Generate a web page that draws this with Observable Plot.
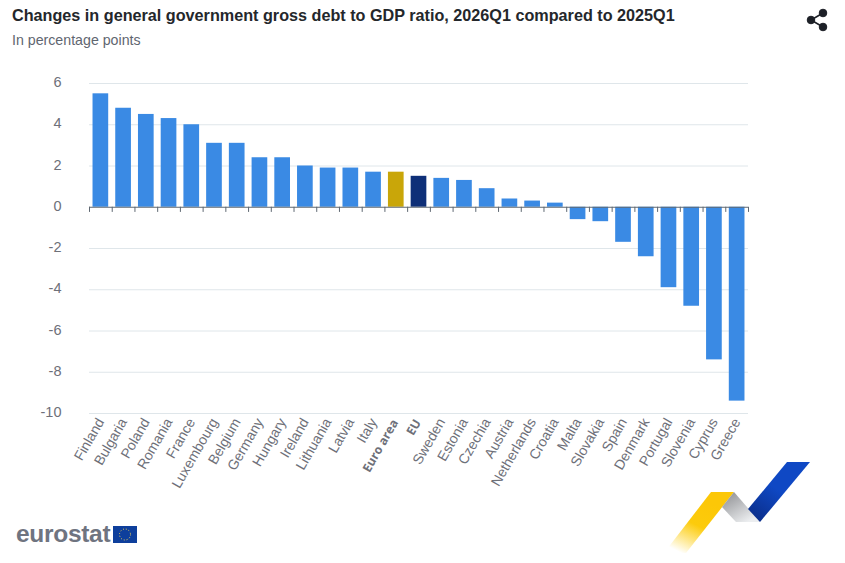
<!DOCTYPE html>
<html><head><meta charset="utf-8">
<script src="https://cdn.jsdelivr.net/npm/d3@7"></script>
<script src="https://cdn.jsdelivr.net/npm/@observablehq/plot@0.6"></script>
<style>
html,body{margin:0;padding:0;background:#fff;font-family:"Liberation Sans",Arial,sans-serif;overflow:hidden}
#wrap{position:relative;width:845px;height:563px}
#title{position:absolute;left:12px;top:5px;font-size:16.2px;font-weight:700;color:#24272b;white-space:nowrap;line-height:20px}
#subtitle{position:absolute;left:12px;top:31px;font-size:14.2px;color:#5f6670;white-space:nowrap;line-height:18px}
#chart{position:absolute;left:0;top:0}
.deco{position:absolute;left:0;top:0;pointer-events:none}
#wordmark{position:absolute;left:16px;top:519px;font-size:24.5px;font-weight:700;color:#6f7480;letter-spacing:-.3px;line-height:30px}
</style></head><body>
<div id="wrap">
<div id="chart"></div>
<div id="title">Changes in general government gross debt to GDP ratio, 2026Q1 compared to 2025Q1</div>
<div id="subtitle">In percentage points</div>
<div id="wordmark">eurostat</div>
<svg class="deco" width="845" height="563" viewBox="0 0 845 563">
<defs>
<linearGradient id="gy" x1="0.25" y1="1" x2="0.7" y2="0.2"><stop offset="0" stop-color="#ffcc00" stop-opacity="0"/><stop offset=".55" stop-color="#fccb0c"/><stop offset="1" stop-color="#fcc707"/></linearGradient>
<linearGradient id="gg" x1="0.2" y1="0.1" x2="0.8" y2="0.9"><stop offset="0" stop-color="#9a9b9e"/><stop offset="1" stop-color="#eceef0"/></linearGradient>
<linearGradient id="gb" x1="0.2" y1="1" x2="0.7" y2="0.3"><stop offset="0" stop-color="#0b2f8c"/><stop offset=".7" stop-color="#0f48c4"/></linearGradient>
</defs>
<path d="M664 553 L711 492 L734 492 L686 553 Z" fill="url(#gy)"/>
<path d="M722 507 L734 492 L760 522 L736 522 Z" fill="url(#gg)"/>
<path d="M748 509 L787 462 L810 462 L760 522 Z" fill="url(#gb)"/>
<rect x="113" y="526" width="24" height="17" fill="#0e3f9c"/>
<circle cx="125" cy="534.5" r="5.5" fill="none" stroke="#f2d35a" stroke-width="1" stroke-dasharray="1 1.9"/>
<g fill="#1d2027" stroke="#1d2027">
<circle cx="811" cy="20" r="3.8"/><circle cx="823" cy="13" r="3.8"/><circle cx="823" cy="27" r="3.8"/>
<path d="M823 13 L811 20 L823 27" fill="none" stroke-width="1.6"/>
</g>
</svg>
</div>
<script>
const categories = ["Finland","Bulgaria","Poland","Romania","France","Luxembourg","Belgium","Germany","Hungary","Ireland","Lithuania","Latvia","Italy","Euro area","EU","Sweden","Estonia","Czechia","Austria","Netherlands","Croatia","Malta","Slovakia","Spain","Denmark","Portugal","Slovenia","Cyprus","Greece"];
const values = [5.5,4.8,4.5,4.3,4.0,3.1,3.1,2.4,2.4,2.0,1.9,1.9,1.7,1.7,1.5,1.4,1.3,0.9,0.4,0.3,0.2,-0.6,-0.7,-1.7,-2.4,-3.9,-4.8,-7.4,-9.4];
const highlights = {"Euro area":"#c9a609","EU":"#0e2f78"};
const barBlue = "#3a8ae4";
const yTicks = [6,4,2,0,-2,-4,-6,-8,-10];
const rows = categories.map((c,i)=>({c,v:values[i]}));
const aggregates = categories.filter(c=>c in highlights);
const countries = categories.filter(c=>!(c in highlights));
const step = 659/categories.length;
const font = '"Liberation Sans",Arial,sans-serif';
const plot = Plot.plot({
  width:845,height:563,
  marginTop:83,marginBottom:150,marginLeft:89,marginRight:97,
  style:{fontFamily:font,background:"transparent"},
  x:{domain:categories,type:"band",paddingInner:0.31,paddingOuter:0.155,round:false,label:null},
  y:{domain:[-10,6],label:null},
  marks:[
    Plot.ruleY(yTicks.filter(t=>t!==0),{stroke:"#dfe6ea",strokeWidth:1}),
    Plot.barY(rows,{x:"c",y:"v",fill:d=>highlights[d.c]||barBlue}),
    Plot.ruleY([0],{stroke:"#5f6872",strokeWidth:1}),
    Plot.ruleX(categories,{x:d=>d,y1:0,y2:-0.25,dx:-step/2,stroke:"#5f6872",strokeWidth:1}),
    Plot.ruleX(categories.slice(-1),{x:d=>d,y1:0,y2:-0.25,dx:step/2,stroke:"#5f6872",strokeWidth:1}),
    Plot.axisY({ticks:yTicks,tickSize:0,tickPadding:28,tickFormat:d=>String(d),fontSize:14.5,color:"#6e7079",label:null,dy:-1}),
    Plot.axisX(countries,{tickSize:0,tickPadding:6,tickRotate:-60,fontSize:14,color:"#6e7079",label:null,anchor:"bottom",dx:0}),
    Plot.axisX(aggregates,{tickSize:0,tickPadding:7,tickRotate:-60,fontSize:12.2,fontWeight:700,color:"#6e7079",label:null,anchor:"bottom",dx:-1,fontFamily:'"Open Sans",sans-serif'})
  ]
});
document.getElementById("chart").append(plot);
</script>
</body></html>
